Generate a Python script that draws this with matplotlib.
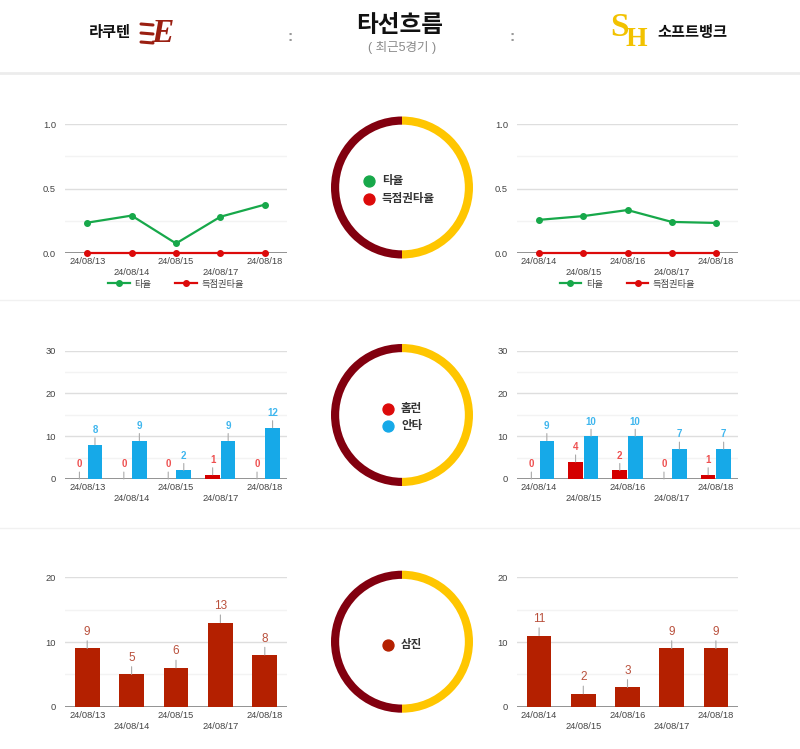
import matplotlib.pyplot as plt
import numpy as np

plt.rcParams['font.family'] = ['Liberation Sans', 'Noto Sans CJK KR', 'DejaVu Sans']

W, H = 800, 749

# data
rak_dates = ['24/08/13', '24/08/14', '24/08/15', '24/08/17', '24/08/18']
sb_dates = ['24/08/14', '24/08/15', '24/08/16', '24/08/17', '24/08/18']
rak_avg = [0.235, 0.290, 0.074, 0.281, 0.375]
rak_risp = [0, 0, 0, 0, 0]
sb_avg = [0.257, 0.286, 0.333, 0.241, 0.233]
sb_risp = [0, 0, 0, 0, 0]
rak_hr = [0, 0, 0, 1, 0]
rak_hits = [8, 9, 2, 9, 12]
sb_hr = [0, 4, 2, 0, 1]
sb_hits = [9, 10, 10, 7, 7]
rak_so = [9, 5, 6, 13, 8]
sb_so = [11, 2, 3, 9, 9]
share = [1, 1]

GREEN = '#17a84a'
RED = '#dc0a0a'
BLUE = '#16a9e8'
SO_RED = '#b42000'
DARK = '#82000f'
GOLD = '#ffc600'

fig = plt.figure(figsize=(W / 100, H / 100), dpi=100)


def px_axes(x0, y0, x1, y1):
    return fig.add_axes([x0 / W, 1 - y1 / H, (x1 - x0) / W, (y1 - y0) / H])


def style(ax, ymax, step, dates, fmt):
    ax.set_xlim(-0.5, 4.5)
    ax.set_ylim(0, ymax)
    for s in ax.spines.values():
        s.set_visible(False)
    major = np.arange(0, ymax + step / 2, step)
    ax.set_yticks(major)
    ax.set_yticklabels([fmt.format(v) for v in major])
    ax.set_yticks(major[:-1] + step / 2, minor=True)
    ax.grid(axis='y', which='major', color='#dedede', lw=1)
    ax.grid(axis='y', which='minor', color='#f3f3f3', lw=1)
    ax.axhline(0, color='#777777', lw=1.1, zorder=1.5)
    ax.set_axisbelow(True)
    ax.set_xticks(range(len(dates)))
    ax.set_xticklabels([d if i % 2 == 0 else '\n' + d for i, d in enumerate(dates)],
                       linespacing=1.25)
    ax.tick_params(axis='x', length=0, labelsize=6.7, colors='#444444', pad=3)
    ax.tick_params(axis='y', which='both', length=0, labelsize=6.7, colors='#444444', pad=6.5)


def annotate(ax, xs, vals, color, size, off, weight='normal'):
    for x, v in zip(xs, vals):
        ax.annotate(str(v), xy=(x, v), xytext=(0, off), textcoords='offset points',
                    ha='center', va='bottom', color=color, fontsize=size, weight=weight,
                    arrowprops=dict(arrowstyle='-', color='#aaaaaa', lw=0.8,
                                    shrinkA=0, shrinkB=0))


x = np.arange(5)

# row 1: batting average lines
for (x0, x1), dates, avg, risp in [((65, 287), rak_dates, rak_avg, rak_risp),
                                   ((517, 738), sb_dates, sb_avg, sb_risp)]:
    ax = px_axes(x0, 124, x1, 253)
    style(ax, 1.0, 0.5, dates, '{:.1f}')
    ax.plot(x, avg, color=GREEN, lw=1.6, marker='o', ms=4, clip_on=False, zorder=3, label='타율')
    ax.plot(x, risp, color=RED, lw=1.6, marker='o', ms=4, clip_on=False, zorder=3, label='득점권타율')
    ax.legend(loc='center', bbox_to_anchor=(0.5, -31 / 129), ncol=2, frameon=False,
              fontsize=6.7, handlelength=2.3, columnspacing=2.6, handletextpad=0.5,
              labelcolor='#444444')

# row 2: home runs / hits
for (x0, x1), dates, hr, hits in [((65, 287), rak_dates, rak_hr, rak_hits),
                                  ((517, 738), sb_dates, sb_hr, sb_hits)]:
    ax = px_axes(x0, 350.7, x1, 479)
    style(ax, 30, 10, dates, '{:.0f}')
    ax.bar(x - 0.175, hr, 0.33, color='#d40000', zorder=2)
    ax.bar(x + 0.175, hits, 0.33, color=BLUE, zorder=2)
    annotate(ax, x - 0.175, hr, '#ee5050', 7, 7, 'bold')
    annotate(ax, x + 0.175, hits, '#3fb6ee', 7, 7, 'bold')

# row 3: strikeouts
for (x0, x1), dates, so in [((65, 287), rak_dates, rak_so),
                            ((517, 738), sb_dates, sb_so)]:
    ax = px_axes(x0, 577.3, x1, 706.7)
    style(ax, 20, 10, dates, '{:.0f}')
    ax.bar(x, so, 0.56, color=SO_RED, zorder=2)
    annotate(ax, x, so, '#b9503c', 8.5, 7.5)

# center donuts
for cy in [187.5, 415, 641.7]:
    ax = px_axes(331, cy - 71, 473, cy + 71)
    ax.pie(share, colors=[DARK, GOLD], startangle=90, counterclock=True,
           wedgeprops=dict(width=0.115, edgecolor='none'))
    ax.set_xlim(-1, 1)
    ax.set_ylim(-1, 1)

# overlay for header, separators and donut legends
ov = fig.add_axes([0, 0, 1, 1])
ov.set_xlim(0, W)
ov.set_ylim(H, 0)
ov.axis('off')

ov.plot([0, W], [73, 73], color='#ececec', lw=2)
ov.plot([0, W], [300, 300], color='#f1f1f1', lw=1)
ov.plot([0, W], [528, 528], color='#f1f1f1', lw=1)

ov.text(110, 33, '라쿠텐', ha='center', va='center', fontsize=11, weight='bold', color='#111111')
ov.text(162, 34, 'E', ha='center', va='center', fontsize=24, weight='bold', style='italic',
        family='Liberation Serif', color='#9a1f12')
for yy in [24, 33, 42]:
    ov.plot([141, 153], [yy, yy + 1], color='#9a1f12', lw=2.2, solid_capstyle='round')
ov.text(400, 25, '타선흐름', ha='center', va='center', fontsize=17, weight='bold', color='#111111')
ov.text(402, 47, '( 최근5경기 )', ha='center', va='center', fontsize=9, color='#8a8a8a')
ov.text(290, 37, ':', ha='center', va='center', fontsize=11, weight='bold', color='#999999')
ov.text(512, 37, ':', ha='center', va='center', fontsize=11, weight='bold', color='#999999')
ov.text(619, 27, 'S', ha='center', va='center', fontsize=24, weight='bold',
        family='Liberation Serif', color='#f2c200')
ov.text(636, 40, 'H', ha='center', va='center', fontsize=20, weight='bold',
        family='Liberation Serif', color='#f2c200')
ov.text(692, 33, '소프트뱅크', ha='center', va='center', fontsize=11, weight='bold', color='#111111')

legends = [
    [(369, 181, GREEN, '타율'), (369, 198.7, RED, '득점권타율')],
    [(388, 409, RED, '홈런'), (388, 425.7, BLUE, '안타')],
    [(388, 645, SO_RED, '삼진')],
]
for group in legends:
    for lx, ly, c, t in group:
        ov.scatter([lx], [ly], s=62, color=c, zorder=3)
        ov.text(lx + 13, ly, t, ha='left', va='center', fontsize=8.3, weight='bold', color='#333333')

fig.savefig('out.png', dpi=100)
